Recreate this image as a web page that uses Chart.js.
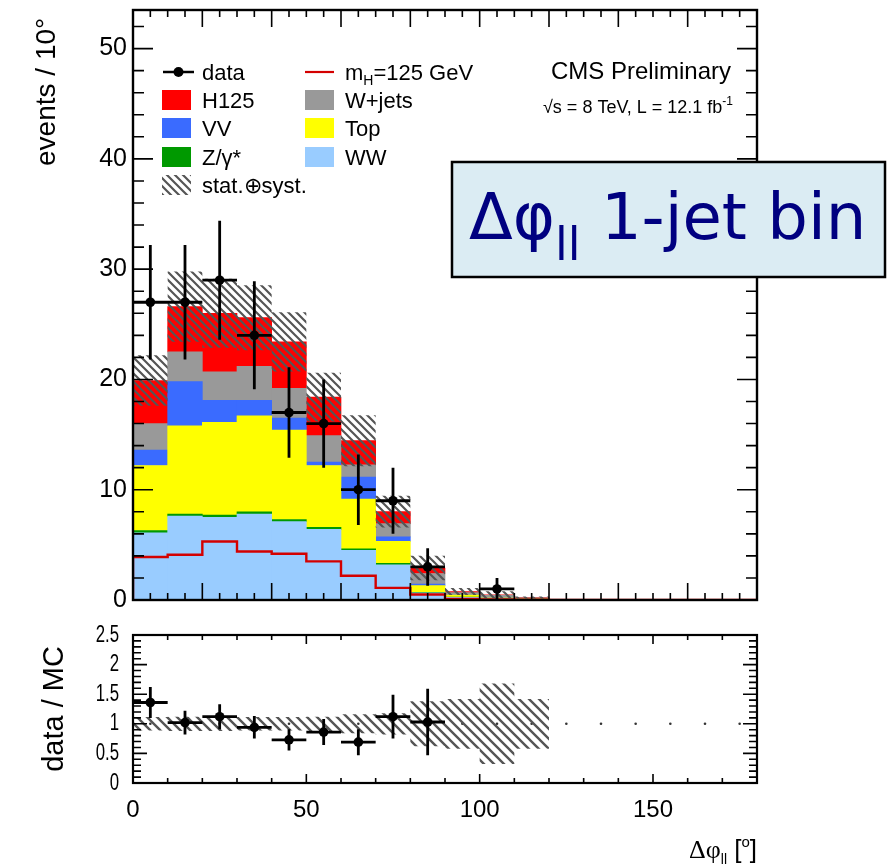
<!DOCTYPE html>
<html><head><meta charset="utf-8">
<script src="https://cdn.jsdelivr.net/npm/chart.js@4/dist/chart.umd.min.js"></script>
<style>
html,body{margin:0;padding:0;background:#fff;}
#wrap{position:relative;width:887px;height:866px;background:#fff;}
#main{position:absolute;left:0;top:0;}
#ratio{position:absolute;left:0;top:620px;}
</style></head><body>
<div id="wrap">
<canvas id="main" width="887" height="620"></canvas>
<canvas id="ratio" width="887" height="246"></canvas>
</div>
<script>
// ---------------- data ----------------
const binLowEdges = [0,10,20,30,40,50,60,70,80,90,100,110,120,130,140,150,160,170];
const binWidth = 10;
const dataCounts = [27,27,29,24,17,16,10,9,3,null,1,null,null,null,null,null,null,null];
const dataErr    = [5.2,5.2,5.4,4.9,4.1,4.0,3.2,3.0,1.7,0,1.0,0,0,0,0,0,0,0];
const ww        = [6.1,7.6,7.5,7.8,7.1,6.4,4.5,3.2,0.65,0.25,0.1,0.05,0,0,0,0,0,0];
const zgamma    = [0.2,0.2,0.2,0.2,0.2,0.2,0.15,0.12,0.05,0.02,0,0,0,0,0,0,0,0];
const topQuark  = [5.9,8.0,8.4,8.7,8.1,5.6,4.5,2.0,0.6,0.2,0.1,0.05,0,0,0,0,0,0];
const vv        = [1.4,4.0,2.0,1.4,1.1,0.3,2.0,0.4,0.15,0.05,0.02,0,0,0,0,0,0,0];
const wjets     = [2.4,2.7,2.6,3.1,2.7,2.4,1.1,1.2,0.95,0.15,0.2,0.1,0,0,0,0,0,0];
const h125      = [3.9,4.1,5.3,4.4,4.2,3.5,2.2,1.1,0.5,0.1,0.05,0.02,0,0,0,0,0,0];
const mcRelErr  = [0.115,0.12,0.12,0.115,0.115,0.12,0.16,0.18,0.38,0.42,0.68,0.42];
const ratioVals = [1.36,1.02,1.12,0.94,0.73,0.86,0.69,1.12,1.03];
const ratioErr  = [0.26,0.20,0.21,0.19,0.18,0.22,0.22,0.37,0.56];
const mainYTicks  = [0,10,20,30,40,50];
const ratioYTicks = [0,0.5,1,1.5,2,2.5];
const ratioXTicks = [0,50,100,150];

// ---------------- helpers ----------------
const FONT = '"Liberation Sans", Arial, Helvetica, sans-serif';
const centers = binLowEdges.map(e => e + binWidth / 2);
const barPts = arr => centers.map((x, i) => ({x, y: arr[i]}));
const stepPts = (vals, n) => {
  const p = [];
  for (let i = 0; i < n; i++) p.push({x: binLowEdges[i], y: vals[i]});
  p.push({x: binLowEdges[n - 1] + binWidth, y: vals[n - 1]});
  return p;
};
const totals = centers.map((_, i) => ww[i] + zgamma[i] + topQuark[i] + vv[i] + wjets[i] + h125[i]);
const nBand = mcRelErr.length;
const bandHi = totals.slice(0, nBand).map((t, i) => t * (1 + mcRelErr[i]));
const bandLo = totals.slice(0, nBand).map((t, i) => t * (1 - mcRelErr[i]));
const rBandHi = mcRelErr.map(r => 1 + r);
const rBandLo = mcRelErr.map(r => 1 - r);

function makeHatch(s, lw, color) {
  const c = document.createElement('canvas');
  c.width = s; c.height = s;
  const g = c.getContext('2d');
  g.strokeStyle = color; g.lineWidth = lw; g.lineCap = 'butt';
  g.beginPath();
  for (let k = -1; k <= 1; k++) {
    g.moveTo(k * s - s, -s); g.lineTo(k * s + 2 * s, 2 * s);
  }
  g.stroke();
  return g.createPattern(c, 'repeat');
}
const hatchMain = makeHatch(8, 2.2, '#555555');
const hatchRatio = makeHatch(10, 2.4, '#555555');

// ---------------- plugins ----------------
const frameTicks = {
  id: 'frameTicks',
  afterDatasetsDraw(chart, args, o) {
    const {ctx, chartArea: a, scales: {x: xs, y: ys}} = chart;
    ctx.save();
    ctx.strokeStyle = '#000';
    ctx.lineWidth = o.tickWidth;
    ctx.beginPath();
    const nx = Math.round((xs.max - xs.min) / o.xMinor);
    for (let i = 0; i <= nx; i++) {
      const v = xs.min + i * o.xMinor;
      const maj = Math.abs(v / o.xMajor - Math.round(v / o.xMajor)) < 1e-6;
      const len = maj ? o.xMajLen : o.xMinLen;
      const px = xs.getPixelForValue(v);
      ctx.moveTo(px, a.bottom); ctx.lineTo(px, a.bottom - len);
      ctx.moveTo(px, a.top); ctx.lineTo(px, a.top + len);
    }
    const ny = Math.floor((ys.max - ys.min) / o.yMinor + 1e-6);
    for (let i = 0; i <= ny; i++) {
      const v = ys.min + i * o.yMinor;
      const maj = Math.abs(v / o.yMajor - Math.round(v / o.yMajor)) < 1e-6;
      const len = maj ? o.yMajLen : o.yMinLen;
      const py = ys.getPixelForValue(v);
      ctx.moveTo(a.left, py); ctx.lineTo(a.left + len, py);
      ctx.moveTo(a.right, py); ctx.lineTo(a.right - len, py);
    }
    ctx.stroke();
    ctx.lineWidth = o.frameWidth;
    ctx.strokeRect(a.left, a.top, a.right - a.left, a.bottom - a.top);
    ctx.restore();
  }
};

const errorBars = {
  id: 'errorBars',
  afterDatasetsDraw(chart) {
    const {ctx, scales: {x, y}} = chart;
    chart.data.datasets.forEach(ds => {
      if (!ds.yErr) return;
      ctx.save();
      ctx.strokeStyle = '#000';
      ctx.lineWidth = 2.8;
      ctx.beginPath();
      ds.data.forEach((p, j) => {
        if (p.y == null) return;
        const e = ds.yErr[j];
        const px = x.getPixelForValue(p.x), py = y.getPixelForValue(p.y);
        ctx.moveTo(x.getPixelForValue(p.x - binWidth / 2), py);
        ctx.lineTo(x.getPixelForValue(p.x + binWidth / 2), py);
        ctx.moveTo(px, y.getPixelForValue(Math.max(p.y - e, y.min)));
        ctx.lineTo(px, y.getPixelForValue(p.y + e));
      });
      ctx.stroke();
      ctx.restore();
    });
  }
};

function textRuns(ctx, runs, x, baseline) {
  for (const r of runs) {
    ctx.font = r.font;
    ctx.fillText(r.t, x, baseline + (r.dy || 0));
    x += ctx.measureText(r.t).width;
  }
  return x;
}
function runsWidth(ctx, runs) {
  let w = 0;
  for (const r of runs) { ctx.font = r.font; w += ctx.measureText(r.t).width; }
  return w;
}

const mainDecor = {
  id: 'mainDecor',
  afterDraw(chart) {
    const {ctx} = chart;
    const dsBy = l => chart.data.datasets.find(d => d.label === l);
    ctx.save();
    ctx.textAlign = 'left';
    ctx.textBaseline = 'alphabetic';
    ctx.fillStyle = '#000';
    const F = '22px ' + FONT;
    const rowY = [72, 100, 128, 157, 185];
    // column 1
    ctx.strokeStyle = '#000'; ctx.lineWidth = 2.5;
    ctx.beginPath(); ctx.moveTo(163, rowY[0]); ctx.lineTo(194, rowY[0]); ctx.stroke();
    ctx.beginPath(); ctx.arc(178.5, rowY[0], 5, 0, Math.PI * 2); ctx.fill();
    ['H125', 'VV', 'Z/γ*'].forEach((l, i) => {
      ctx.fillStyle = dsBy(l).backgroundColor;
      ctx.fillRect(162, rowY[i + 1] - 10, 29, 20);
    });
    ctx.fillStyle = dsBy('stat.⊕syst.').backgroundColor;
    ctx.fillRect(162, rowY[4] - 10, 29, 20);
    ctx.fillStyle = '#000';
    ctx.font = F;
    ['data', 'H125', 'VV', 'Z/γ*', 'stat.⊕syst.'].forEach((l, i) => ctx.fillText(l, 202, rowY[i] + 8));
    // column 2
    ctx.strokeStyle = dsBy('mH').borderColor; ctx.lineWidth = 2.2;
    ctx.beginPath(); ctx.moveTo(305, rowY[0]); ctx.lineTo(334, rowY[0]); ctx.stroke();
    ['W+jets', 'Top', 'WW'].forEach((l, i) => {
      ctx.fillStyle = dsBy(l).backgroundColor;
      ctx.fillRect(305, rowY[i + 1] - 10, 29, 20);
    });
    ctx.fillStyle = '#000';
    textRuns(ctx, [{t: 'm', font: F}, {t: 'H', font: '14px ' + FONT, dy: 5}, {t: '=125 GeV', font: F}], 345, rowY[0] + 8);
    ctx.font = F;
    ['W+jets', 'Top', 'WW'].forEach((l, i) => ctx.fillText(l, 345, rowY[i + 1] + 8));
    // CMS label
    ctx.textAlign = 'right';
    ctx.font = '24px ' + FONT;
    ctx.fillText('CMS Preliminary', 731, 79);
    ctx.textAlign = 'left';
    const lumi = [{t: '√s = 8 TeV, L = 12.1 fb', font: '18px ' + FONT}, {t: '-1', font: '12px ' + FONT, dy: -8}];
    textRuns(ctx, lumi, 733 - runsWidth(ctx, lumi), 113);
    // Label box
    ctx.fillStyle = '#dbecf3';
    ctx.fillRect(452, 162, 433, 115);
    ctx.strokeStyle = '#000'; ctx.lineWidth = 2.5;
    ctx.strokeRect(452, 162, 433, 115);
    ctx.fillStyle = '#000080';
    textRuns(ctx, [
      {t: 'Δφ', font: '64px "DejaVu Sans"'},
      {t: 'll', font: '46px "DejaVu Sans"', dy: 21},
      {t: ' 1-jet bin', font: '64px "DejaVu Sans"'}
    ], 469, 239);
    ctx.restore();
  }
};

const ratioDecor = {
  id: 'ratioDecor',
  afterDraw(chart) {
    const {ctx, scales: {y}} = chart;
    ctx.save();
    ctx.fillStyle = '#000';
    ctx.font = '24px ' + FONT;
    ctx.textAlign = 'right';
    ctx.textBaseline = 'middle';
    y.ticks.forEach(t => {
      ctx.save();
      ctx.translate(119, y.getPixelForValue(t.value));
      ctx.scale(0.7, 1);
      ctx.fillText(String(t.value), 0, 0);
      ctx.restore();
    });
    ctx.textAlign = 'left';
    ctx.textBaseline = 'alphabetic';
    const runs = [
      {t: 'Δφ', font: '26px "Liberation Serif", "DejaVu Serif", serif'},
      {t: 'll', font: '14px ' + FONT, dy: 6},
      {t: ' [', font: '26px ' + FONT},
      {t: 'o', font: '15px ' + FONT, dy: -11},
      {t: ']', font: '26px ' + FONT}
    ];
    textRuns(ctx, runs, 757 - runsWidth(ctx, runs), 238);
    ctx.restore();
  }
};

// ---------------- main chart ----------------
new Chart(document.getElementById('main'), {
  type: 'bar',
  data: {
    datasets: [
      {type: 'line', label: 'data', data: barPts(dataCounts), yErr: dataErr, showLine: false,
       pointRadius: 4.8, pointBackgroundColor: '#000', pointBorderWidth: 0, order: 0},
      {type: 'line', label: 'stat.⊕syst.', data: stepPts(bandHi, nBand), stepped: 'before',
       borderWidth: 0, pointRadius: 0, fill: '+1', backgroundColor: hatchMain, order: 1},
      {type: 'line', label: 'bandLo', data: stepPts(bandLo, nBand), stepped: 'before',
       borderWidth: 0, pointRadius: 0, fill: false, order: 1},
      {type: 'line', label: 'mH', data: [{x: 0, y: 0}].concat(stepPts(h125, h125.length)), stepped: 'before',
       borderColor: '#d40000', borderWidth: 2.4, pointRadius: 0, fill: false, order: 2},
      {label: 'WW', data: barPts(ww), backgroundColor: '#99ccff', stack: 'mc', order: 3},
      {label: 'Z/γ*', data: barPts(zgamma), backgroundColor: '#009900', stack: 'mc', order: 3},
      {label: 'Top', data: barPts(topQuark), backgroundColor: '#ffff00', stack: 'mc', order: 3},
      {label: 'VV', data: barPts(vv), backgroundColor: '#3a6bff', stack: 'mc', order: 3},
      {label: 'W+jets', data: barPts(wjets), backgroundColor: '#999999', stack: 'mc', order: 3},
      {label: 'H125', data: barPts(h125), backgroundColor: '#ff0000', stack: 'mc', order: 3}
    ]
  },
  options: {
    responsive: false, animation: false, devicePixelRatio: 1,
    datasets: {bar: {barPercentage: 1, categoryPercentage: 1, borderWidth: 0}},
    layout: {padding: {left: 0, top: 10, right: 130, bottom: 20}},
    plugins: {
      legend: {display: false}, tooltip: {enabled: false},
      frameTicks: {xMinor: 5, xMajor: 20, xMinLen: 7, xMajLen: 17, yMinor: 2, yMajor: 10, yMinLen: 11, yMajLen: 20, tickWidth: 1.6, frameWidth: 2.4}
    },
    scales: {
      x: {type: 'linear', min: 0, max: 180, display: false, offset: false},
      y: {type: 'linear', min: 0, max: 53.5,
          grid: {display: false, drawTicks: false}, border: {display: false},
          afterBuildTicks: s => { s.ticks = mainYTicks.map(v => ({value: v})); },
          ticks: {font: {family: FONT, size: 25}, color: '#000', padding: 6},
          title: {display: true, text: 'events / 10° ', align: 'end', color: '#000',
                  font: {family: FONT, size: 28}, padding: {top: 30, bottom: 0}},
          afterFit: s => { s.width = 133; s.paddingTop = 0; s.paddingBottom = 0; }}
    }
  },
  plugins: [frameTicks, errorBars, mainDecor]
});

// ---------------- ratio chart ----------------
new Chart(document.getElementById('ratio'), {
  type: 'line',
  data: {
    datasets: [
      {label: 'data / MC', data: barPts(ratioVals).slice(0, ratioVals.length), yErr: ratioErr, showLine: false,
       pointRadius: 4.8, pointBackgroundColor: '#000', pointBorderWidth: 0, order: 0},
      {label: 'bandHi', data: stepPts(rBandHi, nBand), stepped: 'before', borderWidth: 0, pointRadius: 0,
       fill: '+1', backgroundColor: hatchRatio, order: 1},
      {label: 'bandLo', data: stepPts(rBandLo, nBand), stepped: 'before', borderWidth: 0, pointRadius: 0,
       fill: false, order: 1},
      {label: 'unity', data: centers.map(x => ({x, y: 1})), showLine: false, pointRadius: 1.3,
       pointBackgroundColor: '#333', pointBorderWidth: 0, order: 2}
    ]
  },
  options: {
    responsive: false, animation: false, devicePixelRatio: 1,
    layout: {padding: {left: 0, top: 15, right: 130, bottom: 0}},
    plugins: {
      legend: {display: false}, tooltip: {enabled: false},
      frameTicks: {xMinor: 10, xMajor: 50, xMinLen: 5, xMajLen: 9, yMinor: 0.1, yMajor: 0.5, yMinLen: 8, yMajLen: 14, tickWidth: 1.6, frameWidth: 2.2}
    },
    scales: {
      x: {type: 'linear', min: 0, max: 180,
          grid: {display: false, drawTicks: false}, border: {display: false},
          afterBuildTicks: s => { s.ticks = ratioXTicks.map(v => ({value: v})); },
          ticks: {font: {family: FONT, size: 24}, color: '#000', padding: 13, maxRotation: 0, autoSkip: false},
          afterFit: s => { s.height = 83; s.paddingLeft = 0; s.paddingRight = 0; }},
      y: {type: 'linear', min: 0, max: 2.5,
          grid: {display: false, drawTicks: false}, border: {display: false},
          afterBuildTicks: s => { s.ticks = ratioYTicks.map(v => ({value: v})); },
          ticks: {display: false},
          title: {display: true, text: 'data / MC', color: '#000',
                  font: {family: FONT, size: 29}, padding: {top: 38, bottom: 0}},
          afterFit: s => { s.width = 133; s.paddingTop = 0; s.paddingBottom = 0; }}
    }
  },
  plugins: [frameTicks, errorBars, ratioDecor]
});
</script>
</body></html>
